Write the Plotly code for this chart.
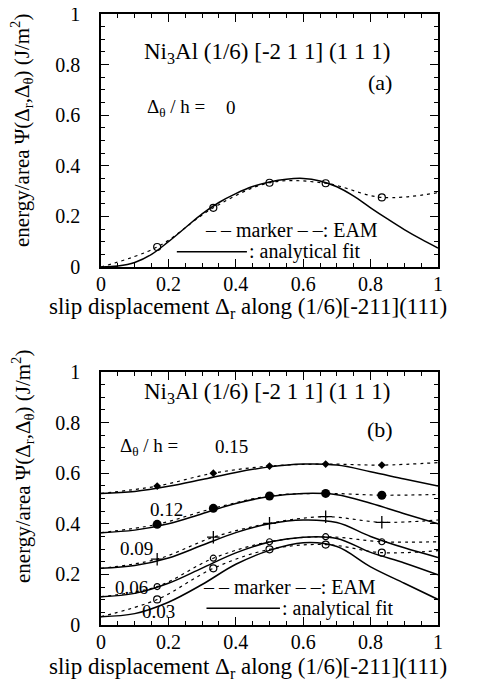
import plotly.graph_objects as go

# ---------------- data ----------------
fit_x_a = [0, 0.05, 0.1, 0.15, 0.2, 0.25, 0.3, 0.35, 0.4, 0.45, 0.5,
           0.55, 0.6, 0.65, 0.7, 0.75, 0.8, 0.85, 0.9, 0.95, 1.0]
fit_a = [0, 0.004, 0.018, 0.05, 0.10, 0.155, 0.21, 0.255, 0.29, 0.318, 0.336,
         0.347, 0.350, 0.340, 0.317, 0.28, 0.234, 0.19, 0.148, 0.11, 0.075]
eam_x = [0, 1/6, 2/6, 3/6, 4/6, 5/6, 1]
eam_a = [0, 0.079, 0.234, 0.333, 0.331, 0.275, 0.294]

fit_x_b = [0, 0.1, 0.2, 0.3, 0.4, 0.5, 0.6, 0.7, 0.8, 0.9, 1.0]
fit_b = {
    "0.15": [0.52, 0.528, 0.548, 0.575, 0.603, 0.625, 0.636, 0.632, 0.606, 0.577, 0.549],
    "0.12": [0.365, 0.375, 0.40, 0.44, 0.48, 0.508, 0.52, 0.515, 0.481, 0.44, 0.40],
    "0.09": [0.224, 0.235, 0.265, 0.315, 0.365, 0.40, 0.415, 0.405, 0.35, 0.305, 0.267],
    "0.06": [0.112, 0.125, 0.165, 0.225, 0.285, 0.328, 0.347, 0.342, 0.287, 0.245, 0.198],
    "0.03": [0.033, 0.045, 0.09, 0.16, 0.24, 0.295, 0.325, 0.31, 0.23, 0.165, 0.101],
}
eam_b = {
    "0.15": [0.52, 0.549, 0.60, 0.628, 0.636, 0.632, 0.642],
    "0.12": [0.365, 0.398, 0.461, 0.51, 0.52, 0.513, 0.516],
    "0.09": [0.224, 0.26, 0.347, 0.402, 0.428, 0.406, 0.415],
    "0.06": [0.112, 0.152, 0.264, 0.329, 0.349, 0.329, 0.329],
    "0.03": [0.033, 0.101, 0.224, 0.299, 0.318, 0.286, 0.294],
}
marker_style = {
    "0.15": dict(symbol="diamond", size=6, color="black"),
    "0.12": dict(symbol="circle", size=9, color="black"),
    "0.09": dict(symbol="cross-thin", size=9, color="black", line=dict(width=1.3, color="black")),
    "0.06": dict(symbol="circle-open", size=6, color="black", line=dict(width=1.2, color="black")),
    "0.03": dict(symbol="circle-open", size=7, color="black", line=dict(width=1.2, color="black")),
}
label_pos = {"0.12": (0.195, 0.455), "0.09": (0.106, 0.303),
             "0.06": (0.09, 0.149), "0.03": (0.17, 0.053)}
x_ticks = [0, 0.2, 0.4, 0.6, 0.8, 1]
x_ticktext = ["0", "0.2", "0.4", "0.6", "0.8", "1"]
y_ticks = [0, 0.2, 0.4, 0.6, 0.8, 1]
y_ticktext = ["0", "0.2", "0.4", "0.6", "0.8", "1"]

FONT = "Liberation Serif, Times New Roman, serif"
W, H = 482, 688
OFF = 8  # the page's default body margin shifts the figure by this many pixels
px0, px1 = 101 - OFF, 438 - OFF
top_a, bot_a = 14 - OFF, 267 - OFF
top_b, bot_b = 372 - OFF, 625 - OFF

fig = go.Figure()
dash = "3px,4px"

# panel (a)
fig.add_trace(go.Scatter(x=fit_x_a, y=fit_a, mode="lines", line=dict(color="black", width=1.5, shape="spline"),
                         xaxis="x", yaxis="y", showlegend=False))
fig.add_trace(go.Scatter(x=eam_x, y=eam_a, mode="lines", line=dict(color="black", width=1.2, dash=dash, shape="spline"),
                         xaxis="x", yaxis="y", showlegend=False))
fig.add_trace(go.Scatter(x=eam_x[1:-1], y=eam_a[1:-1], mode="markers",
                         marker=dict(symbol="circle-open", size=7, color="black", line=dict(width=1.2, color="black")),
                         xaxis="x", yaxis="y", showlegend=False))

# panel (b)
for k in fit_b:
    fig.add_trace(go.Scatter(x=fit_x_b, y=fit_b[k], mode="lines", line=dict(color="black", width=1.5, shape="spline"),
                             xaxis="x2", yaxis="y2", showlegend=False))
    fig.add_trace(go.Scatter(x=eam_x, y=eam_b[k], mode="lines", line=dict(color="black", width=1.2, dash=dash, shape="spline"),
                             xaxis="x2", yaxis="y2", showlegend=False))
    fig.add_trace(go.Scatter(x=eam_x[1:-1], y=eam_b[k][1:-1], mode="markers", marker=marker_style[k],
                             xaxis="x2", yaxis="y2", showlegend=False))

xd = [px0 / W, px1 / W]
def ax_common():
    return dict(range=[0, 1], showgrid=False, zeroline=False, showline=True, linecolor="black", linewidth=1.5,
                mirror="allticks", ticks="inside", ticklen=8, tickwidth=1, tickcolor="black", automargin=False,
                ticklabeloverflow="allow",
                tickfont=dict(family=FONT, size=20, color="black"),
                minor=dict(dtick=0.05, ticks="inside", ticklen=4, tickwidth=1, tickcolor="black"))

xa = ax_common(); xa.update(domain=xd, anchor="y", tickvals=x_ticks, ticktext=x_ticktext, ticklabelstandoff=-2)
xb = ax_common(); xb.update(domain=xd, anchor="y2", tickvals=x_ticks, ticktext=x_ticktext, ticklabelstandoff=-2)
ya = ax_common(); ya.update(domain=[1 - bot_a / H, 1 - top_a / H], anchor="x", tickvals=y_ticks, ticktext=y_ticktext, ticklabelstandoff=15)
yb = ax_common(); yb.update(domain=[1 - bot_b / H, 1 - top_b / H], anchor="x2", tickvals=y_ticks, ticktext=y_ticktext, ticklabelstandoff=15)

ann = []
def A(text, x, y, ref, size=19, xanchor="center", **kw):
    ann.append(dict(text=text, x=x, y=y, xref="x" + ref, yref="y" + ref, showarrow=False,
                    font=dict(family=FONT, size=size, color="black"), xanchor=xanchor, yanchor="middle", **kw))

title = "Ni<sub>3</sub>Al (1/6) [-2 1 1] (1 1 1)"
A(title, 0.494, 0.846, "", size=23)
A("(a)", 0.828, 0.73, "", size=22)
A("Δ<sub>θ</sub> / h =", 0.13, 0.63, "", size=19, xanchor="left")
A("0", 0.387, 0.63, "", size=19)
A("– – marker – –: EAM", 0.566, 0.146, "", size=20)
A(": analytical fit", 0.433, 0.06, "", size=20, xanchor="left")

A(title, 0.494, 0.916, "2", size=23)
A("(b)", 0.828, 0.771, "2", size=22)
A("Δ<sub>θ</sub> / h =", 0.05, 0.705, "2", size=19, xanchor="left")
A("0.15", 0.387, 0.705, "2", size=19)
for k, (lx, ly) in label_pos.items():
    A(k, lx, ly, "2", size=19)
A("– – marker – –: EAM", 0.56, 0.151, "2", size=20)
A(": analytical fit", 0.531, 0.066, "2", size=20, xanchor="left")

# axis titles (page pixel centres of the reference)
ytitle = "energy/area Ψ(Δ<sub>r</sub>,Δ<sub>θ</sub>) (J/m<sup>2</sup>)"
xtitle = "slip displacement Δ<sub>r</sub> along (1/6)[-211](111)"
for yc, xc in [(131, 308), (467, 668)]:
    ann.append(dict(text=ytitle, x=(22 - OFF) / W, y=1 - (yc - OFF) / H, xref="paper", yref="paper", showarrow=False,
                    textangle=-90, font=dict(family=FONT, size=21, color="black"), xanchor="center", yanchor="middle"))
    ann.append(dict(text=xtitle, x=(248 - OFF) / W, y=1 - (xc - OFF) / H, xref="paper", yref="paper", showarrow=False,
                    font=dict(family=FONT, size=23, color="black"), xanchor="center", yanchor="middle"))

shapes = [
    dict(type="line", xref="x", yref="y", x0=0.225, x1=0.433, y0=0.06, y1=0.06, line=dict(color="black", width=1.5)),
    dict(type="line", xref="x2", yref="y2", x0=0.313, x1=0.531, y0=0.066, y1=0.066, line=dict(color="black", width=1.5)),
]

fig.update_layout(width=W, height=H, margin=dict(l=0, r=0, t=0, b=0), paper_bgcolor="white", plot_bgcolor="white",
                  xaxis=xa, yaxis=ya, xaxis2=xb, yaxis2=yb, annotations=ann, shapes=shapes,
                  font=dict(family=FONT, color="black"))
fig.write_html("out.html")
